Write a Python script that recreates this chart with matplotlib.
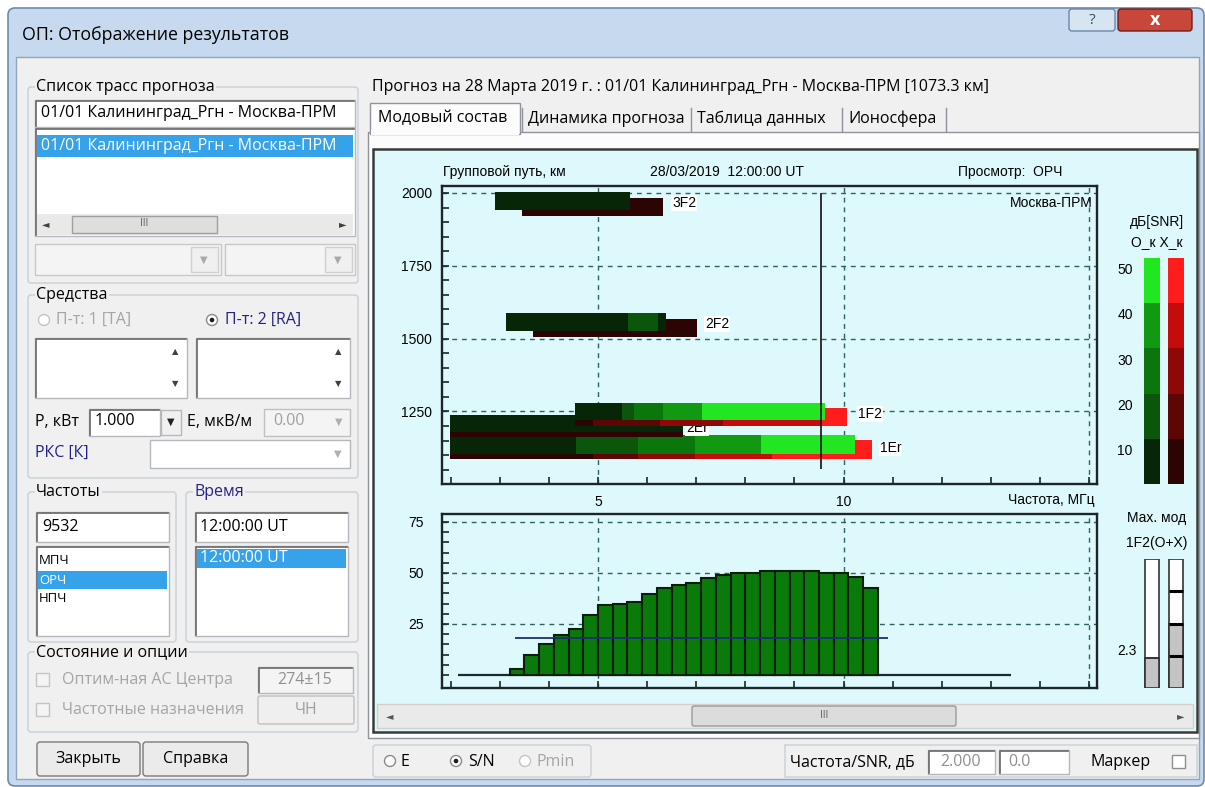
import matplotlib
matplotlib.use('Agg')
import matplotlib.pyplot as plt
from matplotlib.patches import Rectangle, FancyBboxPatch, Circle
from matplotlib.colors import ListedColormap, BoundaryNorm

W, H = 1205, 787
FACE = '#f0f0f0'
CYAN = '#ddf9fc'
SEL = '#35a2ea'
GRID = '#2c6262'
INK = '#1c2626'
plt.rcParams['font.family'] = ['Liberation Sans', 'DejaVu Sans']
UI = ['Open Sans', 'DejaVu Sans']
UI_SIZE = 11.5

# --- mode composition: group path (km) vs frequency (MHz), drawn in this order ---
mode_names = ['3F2', '2F2', '1Er', '2Er', '1F2']
o_km = [(1941, 2004), (1525, 1588), (1105, 1168), (1179, 1237), (1219, 1279)]
x_km = [(1922, 1984), (1506, 1567), (1088, 1151), (1162, 1220), (1199, 1263)]
o_freq = [[2.90, 5.65],
          [3.12, 5.61, 6.22, 6.39],
          [1.98, 4.55, 5.82, 6.97, 8.32, 10.24],
          [1.98, 6.73],
          [4.53, 5.48, 5.73, 6.33, 7.11, 9.63]]
o_snr = [[10], [10, 20, 10], [10, 20, 30, 40, 50], [10], [10, 20, 30, 40, 50]]
x_freq = [[3.46, 6.32],
          [3.67, 7.01],
          [1.98, 4.90, 5.82, 6.97, 8.55, 10.57],
          [1.98, 6.73],
          [4.53, 4.90, 6.26, 7.55, 9.53, 10.06]]
x_snr = [[10], [10], [10, 20, 30, 40, 50], [10], [10, 20, 30, 40, 50]]
label_freq = [6.51, 7.18, 10.74, 6.79, 10.30]
label_km = [1966, 1550, 1123, 1194, 1240]
work_freq = 9.532
work_km = (1051, 2000)

# --- SNR at the working frequency (lower chart) ---
bin_left = [3.2, 3.5, 3.8, 4.1, 4.4, 4.7, 5.0, 5.3, 5.6, 5.9, 6.2, 6.5, 6.8,
            7.1, 7.4, 7.7, 8.0, 8.3, 8.6, 8.9, 9.2, 9.5, 9.8, 10.1, 10.4]
bin_snr = [2.8, 9.7, 15.1, 19.7, 22.7, 29.6, 34.2, 35.0, 35.7, 39.5, 42.8, 44.2, 45.1,
           47.4, 48.8, 50.2, 50.2, 51.0, 51.0, 51.0, 51.0, 50.2, 50.2, 48.2, 42.4]
bin_width = 0.3
snr_threshold = 18.1
threshold_span = (3.3, 10.9)
baseline_span = (2.15, 13.4)

# --- SNR legend and max mode indicator ---
snr_levels = [10, 20, 30, 40, 50]
o_colors = ['#072607', '#0b560b', '#0b760b', '#119a11', '#22e622']
x_colors = ['#2c0404', '#5c0606', '#8e0808', '#c40c0c', '#ff1c1c']
max_mode_o = 2.3
max_mode_x = 5.0
max_mode_marks = [2.5, 5.0, 7.5]

o_cmap = ListedColormap(o_colors)
x_cmap = ListedColormap(x_colors)
norm = BoundaryNorm([5, 15, 25, 35, 45, 55], 5)

fig = plt.figure(figsize=(W / 100, H / 100), dpi=100)
fig.patch.set_facecolor('white')

bg = fig.add_axes([0, 0, 1, 1])
bg.set_xlim(0, W)
bg.set_ylim(H, 0)
bg.axis('off')


def axes_px(left, top, right, bottom):
    return fig.add_axes([left / W, 1 - bottom / H, (right - left) / W, (bottom - top) / H])


def rect(x, y, w, h, fc='none', ec='none', lw=1.0, z=1):
    bg.add_patch(Rectangle((x, y), w, h, facecolor=fc, edgecolor=ec, linewidth=lw, zorder=z))


def rbox(x, y, w, h, fc, ec, r=3, lw=1.0, z=2):
    bg.add_patch(FancyBboxPatch((x, y), w, h, boxstyle=f'round,pad=0,rounding_size={r}',
                                facecolor=fc, edgecolor=ec, linewidth=lw, zorder=z))


def text(x, y, s, size=UI_SIZE, color='black', ha='left', z=5, family=None, **kw):
    bg.text(x, y, s, fontsize=size, color=color, ha=ha, va='center', zorder=z,
            family=family or UI, **kw)


def chart_text(x, y, s, ha='left'):
    bg.text(x, y, s, fontsize=10, ha=ha, va='center', zorder=5)


def sunken(x, y, w, h, fc='white'):
    rect(x, y, w, h, fc=fc, ec='#b5b8be', z=2)
    bg.plot([x + 1, x + 1, x + w - 1], [y + h - 1, y + 1, y + 1], color='#6a6a6a', lw=1.2, zorder=3)


def group(x, y, w, h, title, color='black'):
    rbox(x, y, w, h, 'none', '#cdd5dc', r=3, lw=1.2)
    if title:
        text(x + 8, y, title, color=color, bbox=dict(fc=FACE, ec='none', pad=1.0))


def button(x, y, w, h, label, color='black'):
    rbox(x, y, w, h, '#ebebeb', '#7a7a7a', r=3)
    text(x + w / 2, y + h / 2, label, ha='center', color=color)


def radio(x, y, on=False, enabled=True):
    bg.add_patch(Circle((x, y), 5.5, fc='white', ec='#8a8a8a' if enabled else '#c4c4c4', lw=1, zorder=3))
    if on:
        bg.add_patch(Circle((x, y), 2.3, fc='#1e1e1e', ec='none', zorder=4))


def checkbox(x, y, enabled=True):
    rect(x, y, 13, 13, fc='white' if enabled else '#f4f4f4', ec='#8e8f8f' if enabled else '#c4c4c4', z=3)


def arrow(x, y, s, color='#404040', size=7):
    text(x, y, s, ha='center', color=color, size=size, family=['DejaVu Sans'])


# window frame and title bar
rbox(8, 8, 1196, 778, '#c6d9ee', '#6d8bad', r=7, lw=1.2, z=0)
rect(16, 57, 1183, 722, fc=FACE, ec='#8fa6c0', z=0.5)
text(22, 35, 'ОП: Отображение результатов', size=12.8)
rbox(1069, 9, 46, 22, '#d7e4f2', '#6d86a4', r=3)
text(1092, 20, '?', ha='center', size=11, color='#3a4a6a')
rbox(1118, 9, 74, 22, '#c8473a', '#6b2018', r=3)
text(1155, 20, 'x', ha='center', size=13, color='white', weight='bold')

# left panel: route list
group(28, 87, 330, 196, 'Список трасс прогноза')
sunken(35, 100, 320, 27)
text(41, 113, '01/01 Калининград_Ргн - Москва-ПРМ')
sunken(35, 128, 320, 108)
rect(37, 135, 316, 22, fc=SEL, z=3)
text(41, 146, '01/01 Калининград_Ргн - Москва-ПРМ', color='white')
rect(37, 214, 316, 21, fc='#e9e9e9', z=3)
rect(72, 216, 145, 17, fc='#dedede', ec='#a0a0a0', z=4)
text(144, 224, 'III', ha='center', size=7, color='#555555')
arrow(46, 224, '◄')
arrow(343, 224, '►')
rect(35, 244, 186, 31, fc='#f4f4f4', ec='#c8c8c8', z=2)
rect(191, 247, 27, 25, fc='#f0f0f0', ec='#d0d0d0', z=3)
arrow(204, 260, '▼', color='#a8a8a8')
rect(225, 244, 130, 31, fc='#f4f4f4', ec='#c8c8c8', z=2)
rect(325, 247, 27, 25, fc='#f0f0f0', ec='#d0d0d0', z=3)
arrow(338, 260, '▼', color='#a8a8a8')

# left panel: means
group(28, 295, 330, 183, 'Средства')
radio(44, 320, enabled=False)
text(56, 320, 'П-т: 1 [TA]', color='#a5a5a5')
radio(212, 320, on=True)
text(225, 320, 'П-т: 2 [RA]', color='#22228a')
sunken(35, 338, 152, 60)
arrow(175, 352, '▲', size=6)
arrow(175, 384, '▼', size=6)
sunken(196, 338, 154, 60)
arrow(338, 352, '▲', size=6)
arrow(338, 384, '▼', size=6)
text(35, 422, 'Р, кВт')
sunken(89, 409, 71, 27)
text(95, 421, '1.000')
rect(161, 410, 20, 25, fc='#f0f0f0', ec='#b8b8b8', z=3)
arrow(171, 422, '▼', color='#202020')
text(187, 422, 'Е, мкВ/м')
rect(264, 409, 86, 27, fc='#f4f4f4', ec='#c0c0c0', z=2)
text(273, 421, '0.00', color='#a0a0a0')
arrow(339, 422, '▼', color='#b0b0b0')
text(35, 453, 'РКС [К]', color='#22228a')
rect(150, 440, 200, 28, fc='white', ec='#b5b8be', z=2)
arrow(338, 454, '▼', color='#b0b0b0')

# left panel: frequencies and time
group(28, 492, 148, 150, 'Частоты')
sunken(36, 512, 133, 30)
text(42, 527, '9532')
sunken(36, 546, 133, 90)
text(39, 561, 'МПЧ', size=9.5)
rect(38, 571, 129, 18, fc=SEL, z=3)
text(39, 580, 'ОРЧ', size=9.5, color='white')
text(39, 598, 'НПЧ', size=9.5)
group(186, 492, 172, 150, 'Время', color='#22228a')
sunken(195, 512, 153, 30)
text(200, 527, '12:00:00 UT')
sunken(195, 546, 153, 90)
rect(197, 549, 149, 19, fc=SEL, z=3)
text(200, 558, '12:00:00 UT', color='white')

# left panel: state and options
group(28, 652, 330, 80, 'Состояние и опции')
checkbox(36, 673, enabled=False)
text(62, 680, 'Оптим-ная АС Центра', color='#a5a5a5')
checkbox(36, 703, enabled=False)
text(62, 710, 'Частотные назначения', color='#a5a5a5')
sunken(258, 667, 95, 26, fc='#f4f4f4')
text(305, 680, '274±15', ha='center', color='#909090')
rbox(258, 696, 96, 28, '#efefef', '#c0c0c0', r=2)
text(306, 710, 'ЧН', ha='center', color='#a0a0a0')
button(37, 742, 103, 34, 'Закрыть')
button(143, 742, 105, 34, 'Справка')

# right side: header and tabs
text(372, 87, 'Прогноз на 28 Марта 2019 г. : 01/01 Калининград_Ргн - Москва-ПРМ [1073.3 км]')
rect(368, 132, 831, 606, fc='#fcfcfc', ec='#8e939c', z=1)
rect(370, 103, 150, 31, fc='#fcfcfc', ec='#8e939c', z=1.1)
rect(371, 130, 148, 5, fc='#fcfcfc', z=1.2)
text(378, 118, 'Модовый состав')
for sx, name in [(528, 'Динамика прогноза'), (697, 'Таблица данных'), (848, 'Ионосфера')]:
    text(sx, 119, name)
for sx in [522, 691, 842, 946]:
    bg.plot([sx, sx], [108, 131], color='#8e939c', lw=1.0, zorder=2)

# chart panel
rect(373, 149, 824, 583, fc=CYAN, ec='#3a3a3a', lw=1.8, z=1.5)
rect(377, 704, 816, 24, fc='#eaeaea', ec='#d0d0d0', z=2)
rbox(692, 706, 264, 20, '#dcdcdc', '#9a9a9a', r=2)
text(824, 716, 'III', ha='center', size=7, color='#555555')
arrow(390, 716, '◄', color='#555555')
arrow(1181, 716, '►', color='#555555')

# bottom controls
group(373, 745, 218, 32, '')
radio(390, 761)
text(401, 762, 'E')
radio(456, 761, on=True)
text(468, 762, 'S/N')
radio(525, 761, enabled=False)
text(537, 762, 'Pmin', color='#a5a5a5')
rect(785, 745, 412, 32, fc='none', ec='#cdd5dc', lw=1.2, z=2)
text(790, 762, 'Частота/SNR, дБ')
sunken(928, 750, 67, 24)
text(961, 762, '2.000', ha='center', color='#909090')
sunken(999, 750, 70, 24)
text(1008, 762, '0.0', color='#909090')
text(1090, 762, 'Маркер')
checkbox(1172, 755)

# chart header texts
chart_text(443, 172, 'Групповой путь, км')
chart_text(650, 172, '28/03/2019  12:00:00 UT')
chart_text(958, 172, 'Просмотр:  ОРЧ')
chart_text(1095, 500, 'Частота, МГц', ha='right')


def style_axes(ax, ypad):
    ax.set_facecolor('none')
    for s in ax.spines.values():
        s.set_color(INK)
        s.set_linewidth(1.7)
    ax.tick_params(which='both', direction='in', length=5, width=1.2, color=INK,
                   labelsize=10, top=False, right=False)
    ax.tick_params(axis='y', pad=ypad)
    ax.tick_params(axis='x', pad=8)
    ax.grid(True, which='major', color=GRID, ls=(0, (3.5, 3.5)), lw=1.0)
    ax.set_axisbelow(True)
    ax.set_xlim(1.823, 15.16)
    ax.set_xticks([5, 10, 15])
    ax.set_xticks(range(2, 16), minor=True)


# upper chart: mode composition
ax1 = axes_px(442, 186, 1097, 484)
style_axes(ax1, 7)
ax1.set_ylim(1000.7, 2024)
ax1.set_yticks([1250, 1500, 1750, 2000])
ax1.set_yticks(range(1050, 2001, 50), minor=True)
ax1.set_xticklabels(['5', '10', ''])

for i, name in enumerate(mode_names):
    z = 2 + i
    for km, fr, snr, cmap, dz in [(x_km[i], x_freq[i], x_snr[i], x_cmap, 0.0),
                                  (o_km[i], o_freq[i], o_snr[i], o_cmap, 0.2)]:
        lefts = fr[:-1]
        widths = [b - a for a, b in zip(fr[:-1], fr[1:])]
        ax1.barh((km[0] + km[1]) / 2, widths, left=lefts, height=km[1] - km[0],
                 color=[cmap(norm(v)) for v in snr], linewidth=0, zorder=z + dz)
    ax1.text(label_freq[i], label_km[i], name, fontsize=10, va='center', ha='left', zorder=z + 0.4,
             bbox=dict(fc='white', ec='none', pad=0.6))

ax1.vlines(work_freq, work_km[0], work_km[1], color='#111111', lw=1.2, zorder=10)
ax1.text(15.08, 1966, 'Москва-ПРМ', fontsize=10, ha='right', va='center', zorder=10)

# lower chart: SNR vs frequency
ax2 = axes_px(442, 514, 1097, 688)
style_axes(ax2, 13)
ax2.set_ylim(-6.4, 78.9)
ax2.set_yticks([25, 50, 75])
ax2.set_yticks(range(0, 76, 5), minor=True)
ax2.tick_params(axis='x', labelbottom=False)
ax2.hlines(0, baseline_span[0], baseline_span[1], color='#1a2a2a', lw=1.6, zorder=2)
ax2.bar(bin_left, bin_snr, width=bin_width, align='edge', color='#0a7a0a',
        edgecolor='#0b1f0b', linewidth=1.5, zorder=3)
ax2.hlines(snr_threshold, threshold_span[0], threshold_span[1], color='#1c2c78', lw=1.3, zorder=4)

# SNR colour legend
chart_text(1157, 222, 'дБ[SNR]', ha='center')
chart_text(1157, 242, 'О_к Х_к', ha='center')
axl = axes_px(1140, 258, 1188, 484)
axl.set_xlim(0, 2)
axl.set_ylim(5, 55)
axl.axis('off')
axl.bar([0.5] * 5, [10] * 5, bottom=[v - 5 for v in snr_levels], width=0.66,
        color=[o_cmap(norm(v)) for v in snr_levels], linewidth=0)
axl.bar([1.5] * 5, [10] * 5, bottom=[v - 5 for v in snr_levels], width=0.66,
        color=[x_cmap(norm(v)) for v in snr_levels], linewidth=0)
for v in snr_levels:
    axl.text(-0.3, v + 2.3, str(v), fontsize=10, ha='right', va='center', clip_on=False)

# max mode indicator
chart_text(1157, 518, 'Мах. мод', ha='center')
chart_text(1157, 543, '1F2(О+Х)', ha='center')
axm = axes_px(1140, 559, 1188, 688)
axm.set_xlim(0, 2)
axm.set_ylim(0, 10)
axm.axis('off')
axm.bar([0.5, 1.5], [10, 10], width=0.6, color='white', edgecolor='#333333', linewidth=1.2)
axm.bar([0.5, 1.5], [max_mode_o, max_mode_x], width=0.6, color='#c4c4c4', edgecolor='#333333', linewidth=1.2)
axm.hlines(max_mode_marks, 1.2, 1.8, color='black', lw=2.2)
axm.hlines(max_mode_o, 0.2, 0.8, color='#333333', lw=1.2)
axm.text(-0.12, max_mode_o, '2.3', fontsize=10, ha='right', va='bottom', clip_on=False)

fig.savefig('out.png', dpi=100)
